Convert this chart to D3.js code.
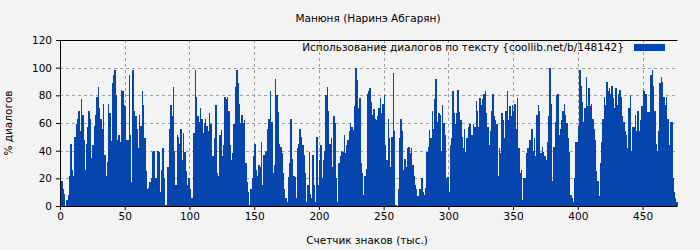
<!DOCTYPE html>
<html><head><meta charset="utf-8">
<script src="https://cdn.jsdelivr.net/npm/d3@7"></script>
<style>
html,body{margin:0;padding:0;background:#f3f3f3;}
svg{display:block;font-family:"DejaVu Sans",sans-serif;}
</style></head><body>
<svg id="c" width="700" height="250"></svg>
<script>
// Data: % of dialogue per 1000 characters
const seg1 = [4,18,12,9,0,4,8,22,45,26,22,50,59,63,69,54,77,66,48,26,45,57,69,63,35,44,58,66,79,86,71,63,56,74,37,22,32,74];
const seg2 = [67,47,89,95,98,80,48,51,46,84,83,73,72,48,48,95,51,17,98,69,65,56,42,66,58,83,73,49,25,12,13,17,20,39,40,20,20,40,39];
const seg3 = [10,26,42,20,1,1,28,56,73,65,86,40,15,51,50,45,56,33,53,39,25,15,20,12,6,6,53,98,79,65,61,71,63,53,60,63,58,54,67,59,36];
const seg4 = [36,49,73,24,22,51,55,36,44,79,77,79,69,44,33,38,59,86,98,89,74,60,66,60,62,31,17,10,1,12,20,36,45,26,22,30,28,46,15,37];
const seg5 = [39,40,56,63,83,61,24,30,92,80,68,45,43,38,24,12,6,3,21,31,63,34,22,21,6,42,45,56,50,44,37,24,3,15,39,9,6,37,15,3];
const seg6 = [50,15,33,44,20,33,40,80,86,69,45,49,28,65,60,20,3,31,36,40,39,51,38,44,48,54,60,57,55,72,100,91,71,78,31,24,8,22,27,81,83];
const seg7 = [85,75,66,70,63,62,65,71,78,67,74,80,44,33,63,49,28,50,96,54,1,0,12,49,63,54,26,34,28,42,43,38,42,30,22,15,12,7,12];
const seg8 = [12,20,10,8,13,39,43,55,49,69,56,77,92,61,67,66,40,73,60,51,20,21,10,44,49,83,67,59,67,84,68,62,50,42,56,39,49,57,59,51];
const seg9 = [51,59,57,76,69,57,78,73,77,81,83,67,57,44,54,69,81,65,62,59,22,42,38,67,62,49,69,83,62,72,65,73,69,74,56,78,42,24,26,4,20];
const seg10 = [20,38,42,48,48,56,40,49,36,66,73,69,38,43,39,36,33,46,65,100,74,18,43,61,80,81,51,56,62,69,74,66,60,49,39,8,6,3,20,46];
const seg11 = [46,58,98,87,75,61,71,93,72,85,72,74,63,56,48,25,18,7,31,46,63,79,73,90,83,85,81,87,78,71,85,73,81,84,79,65,61,54,51,42];
const seg12 = [71,80,40,57,57,66,54,69,54,62,72,84,83,81,68,68,68,95,98,87,69,45,40,54,89,93,90,79,73,79,63,44,61,61,20,10,6,3];

const xTicks = [0,50,100,150,200,250,300,350,400,450];
const yTicks = [0,20,40,60,80,100,120];
const titleText = "Манюня (Наринэ Абгарян)";
const seriesName = "Использование диалогов по тексту {coollib.net/b/148142}";
const xLabel = "Счетчик знаков (тыс.)";
const yLabel = "% диалогов";

const values = [].concat(seg1,seg2,seg3,seg4,seg5,seg6,seg7,seg8,seg9,seg10,seg11,seg12);

const FS = 10.5;
const svg = d3.select("#c");
const L = 60, R = 677.5, T = 40, B = 206;
const x = d3.scaleLinear().domain([0, values.length]).range([L, R]);
const y = d3.scaleLinear().domain([0, 120]).range([B, T]);

svg.append("rect").attr("width",700).attr("height",250).attr("fill","#f3f3f3");

// grid
const grid = svg.append("g").attr("stroke","#a0a0a0").attr("stroke-dasharray","3,3").attr("stroke-width",1);
yTicks.filter(v=>v>0 && v<120).forEach(v=>{
  grid.append("line").attr("x1",L).attr("x2",R).attr("y1",Math.round(y(v))+0.5).attr("y2",Math.round(y(v))+0.5);
});
xTicks.filter(v=>v>0).forEach(v=>{
  grid.append("line").attr("y1",T).attr("y2",B).attr("x1",Math.round(x(v))+0.5).attr("x2",Math.round(x(v))+0.5);
});

// bars
svg.append("g").attr("shape-rendering","crispEdges").selectAll("rect").data(values).join("rect")
  .attr("x",(d,i)=>x(i)).attr("width",(d,i)=>x(i+1)-x(i)+0.2)
  .attr("y",d=>y(d)).attr("height",d=>B-y(d))
  .attr("fill","#0645ad");

// axes
const xAxis = d3.axisBottom(x).tickValues(xTicks).tickSize(4).tickPadding(3).tickFormat(d3.format("d"));
const gx = svg.append("g").attr("transform",`translate(0,${B})`).call(xAxis);
const yAxis = d3.axisLeft(y).tickValues(yTicks).tickSize(4).tickPadding(4);
const gy = svg.append("g").attr("transform",`translate(${L},0)`).call(yAxis);
[gx,gy].forEach(g=>{
  g.select(".domain").remove();
  g.selectAll("line").attr("stroke","#000");
  g.selectAll("text").attr("font-family","DejaVu Sans").attr("font-size",FS).attr("fill","#000");
});
// frame
svg.append("path").attr("d",`M${L+0.5},${B+0.5}V${T+0.5}H${R}`).attr("fill","none").attr("stroke","#000");
svg.append("line").attr("x1",L).attr("x2",R).attr("y1",B+0.5).attr("y2",B+0.5).attr("stroke","#000");

// texts
svg.append("text").attr("x",368).attr("y",22).attr("text-anchor","middle").attr("font-size",FS).text(titleText);
svg.append("text").attr("x",367).attr("y",244).attr("text-anchor","middle").attr("font-size",FS).text(xLabel);
svg.append("text").attr("transform","translate(12,123) rotate(-90)").attr("text-anchor","middle").attr("font-size",FS).text(yLabel);

// legend
svg.append("text").attr("x",624).attr("y",51).attr("text-anchor","end").attr("font-size",FS).text(seriesName);
svg.append("rect").attr("x",634).attr("y",44).attr("width",31).attr("height",7).attr("fill","#0645ad");
</script>
</body></html>
